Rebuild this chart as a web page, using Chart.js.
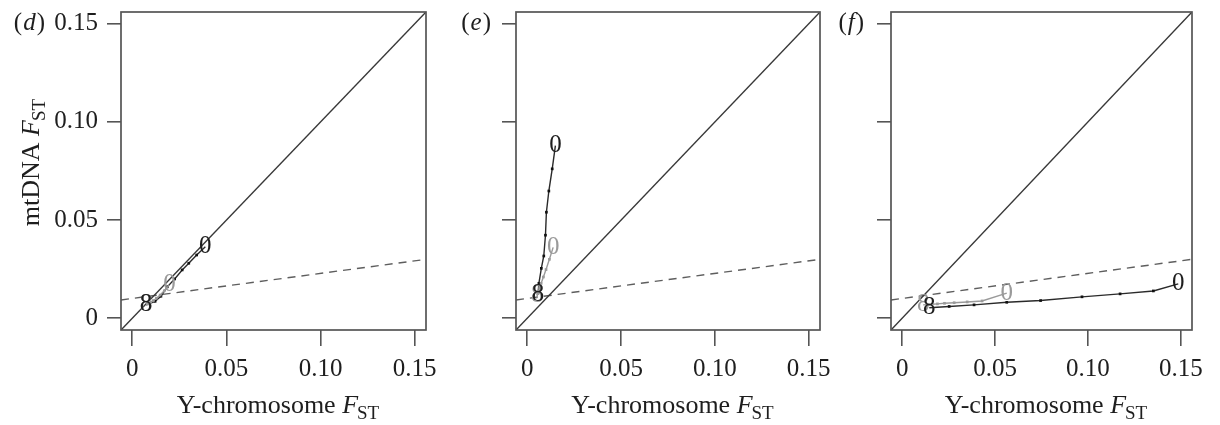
<!DOCTYPE html>
<html>
<head>
<meta charset="utf-8">
<script src="https://cdn.jsdelivr.net/npm/chart.js@4.4.1/dist/chart.umd.min.js"></script>
<style>
  html, body { margin: 0; padding: 0; background: #fff; width: 1220px; height: 425px; overflow: hidden; }
  .panel { position: absolute; top: 0; height: 425px; }
  canvas { display: block; }
</style>
</head>
<body>
<div class="panel" style="left:0px"><canvas id="panelD" width="440" height="425"></canvas></div>
<div class="panel" style="left:440px"><canvas id="panelE" width="390" height="425"></canvas></div>
<div class="panel" style="left:830px"><canvas id="panelF" width="390" height="425"></canvas></div>
<script>
// Shared axis range and ticks (both axes use the same range)
const axisMin = -0.006;
const axisMax = 0.156;
const tickValues = [0, 0.05, 0.10, 0.15];
const tickLabels = ['0', '0.05', '0.10', '0.15'];

// Reference lines: equality line and expected-ratio line (end points)
const diagonalX = [-0.006, 0.156];
const diagonalY = [-0.006, 0.156];
const expectedX = [-0.006, 0.156];
const expectedY = [0.0093, 0.0300];

// Trajectory end labels (first point / last point)
const endLabels = ['0', '8'];

// Panel (d)
const dBlackX = [0.0388, 0.0342, 0.0300, 0.0265, 0.0225, 0.0186, 0.0152, 0.0121, 0.0073];
const dBlackY = [0.0364, 0.0322, 0.0280, 0.0246, 0.0200, 0.0160, 0.0112, 0.0086, 0.0068];
const dGrayX  = [0.0197, 0.0170, 0.0148, 0.0128, 0.0112, 0.0098, 0.0088, 0.0080, 0.0074];
const dGrayY  = [0.0170, 0.0140, 0.0118, 0.0102, 0.0090, 0.0082, 0.0076, 0.0072, 0.0068];

// Panel (e)
const eBlackX = [0.0150, 0.0133, 0.0115, 0.0102, 0.0097, 0.0088, 0.0075, 0.0062, 0.0057];
const eBlackY = [0.0879, 0.0761, 0.0648, 0.0540, 0.0423, 0.0317, 0.0254, 0.0178, 0.0119];
const eGrayX  = [0.0138, 0.0118, 0.0100, 0.0086, 0.0074, 0.0066, 0.0060, 0.0056, 0.0053];
const eGrayY  = [0.0361, 0.0300, 0.0248, 0.0210, 0.0178, 0.0155, 0.0138, 0.0125, 0.0115];

// Panel (f)
const fBlackX = [0.1486, 0.1352, 0.1173, 0.0968, 0.0745, 0.0563, 0.0387, 0.0253, 0.0146];
const fBlackY = [0.0175, 0.0139, 0.0124, 0.0109, 0.0090, 0.0081, 0.0068, 0.0060, 0.0053];
const fGrayX  = [0.0563, 0.0430, 0.0350, 0.0280, 0.0228, 0.0190, 0.0162, 0.0142, 0.0113];
const fGrayY  = [0.0128, 0.0088, 0.0083, 0.0079, 0.0076, 0.0073, 0.0071, 0.0070, 0.0068];

const SERIF = '"Liberation Serif", "DejaVu Serif", serif';
const INK = '#1e1e1e';
const GRAY = '#9a9a9a';
const FRAME = '#555555';

const toPoints = (xs, ys) => xs.map((x, i) => ({ x: x, y: ys[i] }));
const innerRadius = n => Array.from({ length: n }, (_, i) => (i === 0 || i === n - 1) ? 0 : 1.9);

Chart.defaults.font.family = SERIF;
Chart.defaults.color = INK;

// Draws the frame, end labels, axis titles and the panel tag
const decorations = {
  id: 'decorations',
  afterDatasetsDraw(chart, args, opts) {
    const { ctx, chartArea: a, scales: { x, y } } = chart;
    ctx.save();
    // frame around the plotting region
    ctx.strokeStyle = FRAME;
    ctx.lineWidth = 1.7;
    ctx.strokeRect(a.left, a.top, a.right - a.left, a.bottom - a.top);

    // trajectory end labels
    ctx.font = '25px ' + SERIF;
    ctx.textAlign = 'center';
    ctx.textBaseline = 'middle';
    chart.data.datasets.forEach(ds => {
      if (!ds.endColor) return;
      const pts = ds.data;
      ctx.fillStyle = ds.endColor;
      ctx.fillText(endLabels[0], x.getPixelForValue(pts[0].x), y.getPixelForValue(pts[0].y));
      const last = pts[pts.length - 1];
      ctx.fillText(endLabels[1], x.getPixelForValue(last.x), y.getPixelForValue(last.y));
    });
    ctx.restore();
  },
  afterDraw(chart, args, opts) {
    const { ctx, chartArea: a } = chart;
    ctx.save();
    ctx.fillStyle = INK;
    ctx.textBaseline = 'alphabetic';
    ctx.textAlign = 'left';

    const drawFst = (prefix, cx, cy) => {
      const main = '26px ' + SERIF, ital = 'italic 26px ' + SERIF, sub = '19px ' + SERIF;
      ctx.font = main; const w1 = ctx.measureText(prefix).width;
      ctx.font = ital; const w2 = ctx.measureText('F').width;
      ctx.font = sub; const w3 = ctx.measureText('ST').width;
      const total = w1 + w2 + w3;
      let px = cx - total / 2;
      ctx.font = main; ctx.fillText(prefix, px, cy); px += w1;
      ctx.font = ital; ctx.fillText('F', px, cy); px += w2;
      ctx.font = sub; ctx.fillText('ST', px - 1, cy + 6);
    };

    // x-axis title
    drawFst('Y-chromosome ', (a.left + a.right) / 2 + 5, 413);

    // y-axis title (first panel only)
    if (opts.yTitle) {
      ctx.save();
      ctx.translate(39, 162);
      ctx.rotate(-Math.PI / 2);
      drawFst('mtDNA ', 0, 0);
      ctx.restore();
    }

    // panel tag, e.g. "(d)"
    const t = opts.tag;
    ctx.font = '25px ' + SERIF;
    const wp = ctx.measureText('(').width;
    const wc = ctx.measureText(')').width;
    ctx.font = 'italic 25px ' + SERIF;
    const wl = ctx.measureText(t).width;
    let tx = opts.tagRight - (wp + wl + wc + 2);
    ctx.font = '25px ' + SERIF; ctx.fillText('(', tx, 30); tx += wp + 1;
    ctx.font = 'italic 25px ' + SERIF; ctx.fillText(t, tx, 30); tx += wl + 1;
    ctx.font = '25px ' + SERIF; ctx.fillText(')', tx, 30);
    ctx.restore();
  }
};

function buildPanel(canvasId, blackX, blackY, grayX, grayY, layout) {
  const black = toPoints(blackX, blackY);
  const gray = toPoints(grayX, grayY);
  return new Chart(document.getElementById(canvasId), {
    type: 'scatter',
    data: {
      datasets: [
        {
          data: gray, showLine: true, endColor: GRAY,
          borderColor: GRAY, borderWidth: 1.4,
          pointStyle: 'rect', pointRadius: innerRadius(gray.length),
          pointBackgroundColor: GRAY, pointBorderWidth: 0
        },
        {
          data: black, showLine: true, endColor: INK,
          borderColor: '#2a2a2a', borderWidth: 1.4,
          pointStyle: 'rect', pointRadius: innerRadius(black.length),
          pointBackgroundColor: '#111', pointBorderWidth: 0
        },
        {
          data: toPoints(diagonalX, diagonalY), showLine: true,
          borderColor: '#383838', borderWidth: 1.4, pointRadius: 0
        },
        {
          data: toPoints(expectedX, expectedY), showLine: true,
          borderColor: '#5e5e5e', borderWidth: 1.4, borderDash: [8, 6], pointRadius: 0
        }
      ]
    },
    options: {
      responsive: false,
      animation: false,
      devicePixelRatio: 1,
      layout: { padding: { top: 12, right: layout.padRight, left: 0, bottom: 0 } },
      plugins: {
        legend: { display: false },
        tooltip: { enabled: false },
        decorations: { tag: layout.tag, tagRight: layout.tagRight, yTitle: layout.yTitle }
      },
      scales: {
        x: {
          type: 'linear', min: axisMin, max: axisMax, bounds: 'data',
          afterBuildTicks: s => { s.ticks = tickValues.map(v => ({ value: v })); },
          afterFit: s => { s.height = 95; s.paddingLeft = 0; s.paddingRight = 0; },
          ticks: {
            autoSkip: false, maxRotation: 0, padding: 8,
            font: { family: SERIF, size: 25 }, color: INK,
            callback: (v, i) => tickLabels[i]
          },
          grid: { drawOnChartArea: false, drawTicks: true, tickLength: 16, color: FRAME, lineWidth: 1.6 },
          border: { display: false }
        },
        y: {
          type: 'linear', min: axisMin, max: axisMax, bounds: 'data',
          afterBuildTicks: s => { s.ticks = tickValues.map(v => ({ value: v })); },
          afterFit: s => { s.width = layout.yWidth; s.paddingTop = 0; s.paddingBottom = 0; },
          ticks: {
            autoSkip: false, padding: 9,
            font: { family: SERIF, size: 25 }, color: INK,
            callback: (v, i) => layout.yLabels ? tickLabels[i] : ''
          },
          grid: { drawOnChartArea: false, drawTicks: true, tickLength: 14, color: FRAME, lineWidth: 1.6 },
          border: { display: false }
        }
      }
    },
    plugins: [decorations]
  });
}

buildPanel('panelD', dBlackX, dBlackY, dGrayX, dGrayY,
  { yWidth: 121, padRight: 14, tag: 'd', tagRight: 45, yLabels: true, yTitle: true });
buildPanel('panelE', eBlackX, eBlackY, eGrayX, eGrayY,
  { yWidth: 76, padRight: 10, tag: 'e', tagRight: 491 - 440, yLabels: false, yTitle: false });
buildPanel('panelF', fBlackX, fBlackY, fGrayX, fGrayY,
  { yWidth: 61, padRight: 28, tag: 'f', tagRight: 864 - 830, yLabels: false, yTitle: false });
</script>
</body>
</html>
